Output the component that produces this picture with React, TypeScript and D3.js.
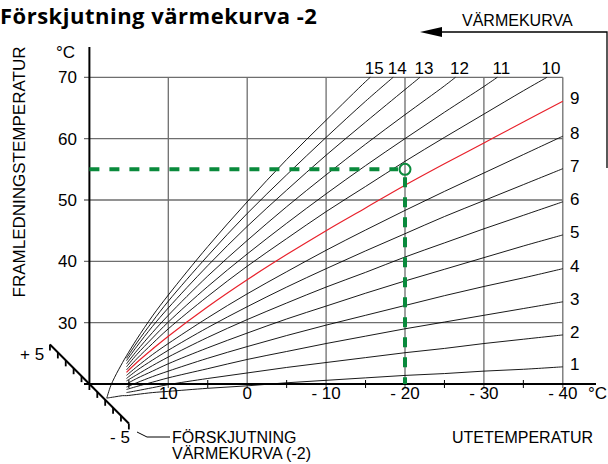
import React from 'react';
import * as d3 from 'd3';

// ---- axis ticks ----
const OUTDOOR_TICKS = [10, 0, -10, -20, -30, -40];
const OUTDOOR_TICK_LABELS = ['10', '0', '- 10', '- 20', '- 30', '- 40'];
const OUTDOOR_MINOR = [15, 5, -5, -15, -25, -35];
const FLOW_TICKS = [30, 40, 50, 60, 70];
const FLOW_TICK_LABELS = ['30', '40', '50', '60', '70'];
const SHIFT_TICKS = [-5, -4, -3, -2, -1, 0, 1, 2, 3, 4, 5];

// ---- heating curves (outdoor °C -> flow °C) ----
const CURVE_NUMBERS = [1, 2, 3, 4, 5, 6, 7, 8, 9, 10, 11, 12, 13, 14, 15];
const OUTDOOR = [15.3, 14, 12, 10, 5, 0, -5, -10, -15, -20, -25, -30, -35, -40];
const LEAD_OUTDOOR = [17.8, 17.3, 16.8, 15.8];
const LEAD_FLOW_1 = [17.7, 17.8, 17.9, 18.1];
const LEAD_FLOW_15 = [17.7, 19.7, 21.1, 23.5];
const FLOW_1 = [18.1, 18.3, 18.6, 18.8, 19.3, 19.7, 20.2, 20.6, 21.0, 21.4, 21.7, 22.1, 22.4, 22.8];
const FLOW_2 = [18.6, 18.9, 19.4, 19.9, 20.9, 21.8, 22.7, 23.5, 24.3, 25.1, 25.8, 26.6, 27.3, 28.0];
const FLOW_3 = [19.1, 19.6, 20.3, 21.0, 22.5, 24.0, 25.3, 26.6, 27.8, 29.0, 30.1, 31.2, 32.3, 33.4];
const FLOW_4 = [19.5, 20.2, 21.2, 22.1, 24.2, 26.1, 27.9, 29.6, 31.2, 32.8, 34.4, 35.9, 37.3, 38.8];
const FLOW_5 = [20.0, 20.9, 22.1, 23.3, 25.9, 28.3, 30.6, 32.7, 34.8, 36.8, 38.7, 40.6, 42.5, 44.3];
const FLOW_6 = [20.5, 21.5, 23.0, 24.4, 27.6, 30.5, 33.2, 35.8, 38.2, 40.7, 43.0, 45.3, 47.5, 49.7];
const FLOW_7 = [20.9, 22.2, 23.9, 25.5, 29.2, 32.6, 35.8, 38.8, 41.7, 44.5, 47.3, 49.9, 52.5, 55.1];
const FLOW_8 = [21.4, 22.8, 24.8, 26.6, 30.8, 34.7, 38.3, 41.8, 45.1, 48.3, 51.4, 54.4, 57.4, 60.4];
const FLOW_9 = [21.9, 23.5, 25.7, 27.8, 32.6, 37.0, 41.1, 45.0, 48.7, 52.4, 55.9, 59.3, 62.7, 66.1];
const FLOW_10 = [22.3, 24.1, 26.6, 29.0, 34.3, 39.2, 43.7, 48.1, 52.2, 56.3, 60.2, 64.0, 67.8];
const FLOW_11 = [22.8, 24.8, 27.5, 30.1, 35.9, 41.2, 46.2, 51.0, 55.6, 60.0, 64.3, 68.5];
const FLOW_12 = [23.3, 25.4, 28.4, 31.2, 37.6, 43.4, 48.9, 54.1, 59.1, 63.9, 68.6];
const FLOW_13 = [23.8, 26.1, 29.4, 32.4, 39.3, 45.7, 51.6, 57.3, 62.7, 68.0];
const FLOW_14 = [24.2, 26.7, 30.2, 33.5, 40.9, 47.8, 54.1, 60.2, 66.1];
const FLOW_15 = [24.6, 27.3, 31.1, 34.5, 42.4, 49.7, 56.6, 63.0, 69.3];
const TOP_END_OUTDOOR = [null, null, null, null, null, null, null, null, null, -38.0, -31.7, -26.4, -21.9, -18.5, -15.6];
const TOP_FLOW = 70;
const RED_CURVE = 9;

// ---- selected operating point ----
const SELECTED_OUTDOOR = -20;
const SELECTED_FLOW = 55;

const FLOWS = [FLOW_1, FLOW_2, FLOW_3, FLOW_4, FLOW_5, FLOW_6, FLOW_7, FLOW_8, FLOW_9, FLOW_10, FLOW_11, FLOW_12, FLOW_13, FLOW_14, FLOW_15];

const FONT = "'Liberation Sans', Arial, Helvetica, sans-serif";
const GRID = '#6e6e6e';
const GREEN = '#0a8a3c';
const RED = '#e8212b';

export default function App() {
  const x = d3.scaleLinear().domain([20, -40]).range([89.4, 562.8]);
  const y = d3.scaleLinear().domain([20, 70]).range([384, 77.3]);
  const line = d3
    .line<[number, number]>()
    .x((d) => x(d[0]))
    .y((d) => y(d[1]))
    .curve(d3.curveCatmullRom.alpha(0.5));

  const curves = CURVE_NUMBERS.map((n, i) => {
    const pts: [number, number][] = [];
    if (n === 1) LEAD_OUTDOOR.forEach((o, j) => pts.push([o, LEAD_FLOW_1[j]]));
    if (n === 15) LEAD_OUTDOOR.forEach((o, j) => pts.push([o, LEAD_FLOW_15[j]]));
    FLOWS[i].forEach((f, j) => pts.push([OUTDOOR[j], f]));
    const top = TOP_END_OUTDOOR[i];
    if (top !== null) pts.push([top, TOP_FLOW]);
    return { n, pts, top };
  });

  const x0 = x(20);
  const y0 = y(20);
  const shiftPt = (s: number): [number, number] => [x(20 + s), y0 - (x0 - x(20 + s))];
  const sA = shiftPt(5);
  const sB = shiftPt(-5);

  return (
    <svg width={608} height={464} style={{ position: 'absolute', left: 0, top: 0, background: '#fff' }} fontFamily={FONT}>
      <rect width={608} height={464} fill="#fff" />
      {/* title */}
      <text x={0} y={23.5} fontFamily="'Open Sans', 'Noto Sans', sans-serif" fontWeight={700} fontSize={22} letterSpacing={0.5}>
        Förskjutning värmekurva -2
      </text>
      {/* värmekurva arrow */}
      <text x={462} y={26} fontSize={16}>VÄRMEKURVA</text>
      <path d={`M440,32 H607 V168`} fill="none" stroke="#000" strokeWidth={1.3} />
      <path d="M420,32 L442,27 L442,37 Z" fill="#000" />

      {/* horizontal grid */}
      {FLOW_TICKS.map((t) => (
        <line key={'h' + t} x1={84} x2={x(-40)} y1={y(t)} y2={y(t)} stroke={GRID} strokeWidth={1.3} />
      ))}
      {/* vertical grid */}
      {OUTDOOR_TICKS.map((t) => (
        <line key={'v' + t} x1={x(t)} x2={x(t)} y1={y(70)} y2={y0 + 4} stroke={GRID} strokeWidth={1.3} />
      ))}
      {OUTDOOR_MINOR.map((t) => (
        <line key={'m' + t} x1={x(t)} x2={x(t)} y1={y0 - 4} y2={y0 + 4} stroke="#000" strokeWidth={1} />
      ))}

      {/* curves */}
      {curves.map((c) => (
        <path
          key={'c' + c.n}
          d={line(c.pts) || ''}
          fill="none"
          stroke={c.n === RED_CURVE ? RED : '#000'}
          strokeWidth={c.n === RED_CURVE ? 1.2 : 0.9}
        />
      ))}

      {/* axes */}
      <line x1={x0} x2={x0} y1={47} y2={y0} stroke="#000" strokeWidth={2} />
      <line x1={84} x2={596} y1={y0} y2={y0} stroke="#000" strokeWidth={2.2} />

      {/* shift axis */}
      <line x1={sA[0]} y1={sA[1]} x2={sB[0]} y2={sB[1]} stroke="#000" strokeWidth={2} />
      {SHIFT_TICKS.map((s) => {
        const p = shiftPt(s);
        return <line key={'s' + s} x1={p[0]} x2={p[0]} y1={p[1]} y2={p[1] + 6} stroke="#000" strokeWidth={1.8} />;
      })}

      {/* selected point */}
      <line x1={x0} x2={x(SELECTED_OUTDOOR) - 7} y1={y(SELECTED_FLOW)} y2={y(SELECTED_FLOW)} stroke={GREEN} strokeWidth={4} strokeDasharray="10 10" />
      <line x1={x(SELECTED_OUTDOOR)} x2={x(SELECTED_OUTDOOR)} y1={y(SELECTED_FLOW) + 8} y2={y0} stroke={GREEN} strokeWidth={4} strokeDasharray="10 10" />
      <circle cx={x(SELECTED_OUTDOOR)} cy={y(SELECTED_FLOW)} r={5.5} fill="none" stroke={GREEN} strokeWidth={2} />

      {/* curve labels */}
      {curves.map((c) => {
        const last = c.pts[c.pts.length - 1];
        return c.top === null ? (
          <text key={'l' + c.n} x={570} y={y(last[1]) - 3} dy="0.35em" fontSize={17}>{c.n}</text>
        ) : (
          <text key={'l' + c.n} x={x(c.top) + 4} y={74} textAnchor="middle" fontSize={17}>{c.n}</text>
        );
      })}

      {/* y tick labels */}
      {FLOW_TICKS.map((t, i) => (
        <text key={'yl' + t} x={77} y={y(t)} dy="0.36em" textAnchor="end" fontSize={17}>{FLOW_TICK_LABELS[i]}</text>
      ))}
      <text x={56} y={58} fontSize={17}>°C</text>
      {/* x tick labels */}
      {OUTDOOR_TICKS.map((t, i) => (
        <text key={'xl' + t} x={x(t)} y={399} textAnchor="middle" fontSize={17}>{OUTDOOR_TICK_LABELS[i]}</text>
      ))}
      <text x={588} y={399} fontSize={17}>°C</text>

      {/* axis titles */}
      <text transform="translate(25,172) rotate(-90)" textAnchor="middle" fontSize={17}>FRAMLEDNINGSTEMPERATUR</text>
      <text x={452} y={443} fontSize={16}>UTETEMPERATUR</text>
      <text x={20} y={360} fontSize={17}>+ 5</text>
      <text x={110} y={443} fontSize={17}>- 5</text>
      <path d="M137,432 L147,437 H170" fill="none" stroke="#000" strokeWidth={1} />
      <text x={172} y={443} fontSize={16}>FÖRSKJUTNING</text>
      <text x={172} y={459} fontSize={16}>VÄRMEKURVA (-2)</text>
    </svg>
  );
}
